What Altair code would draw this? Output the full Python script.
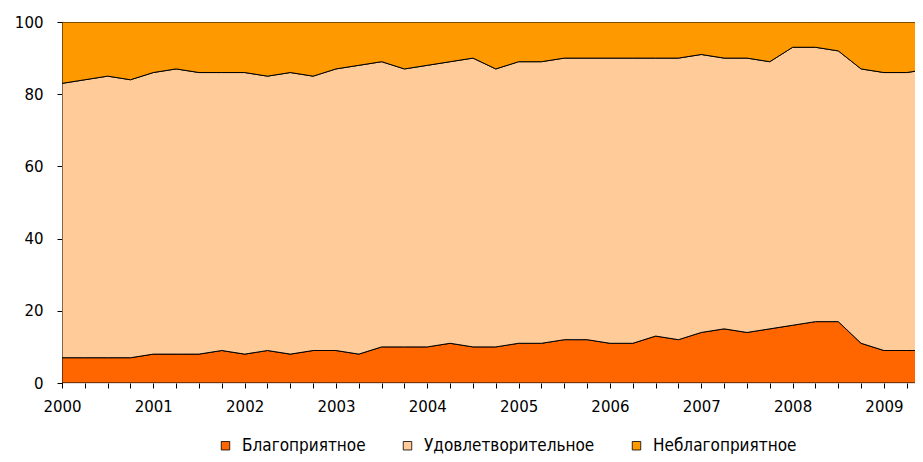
import altair as alt
import pandas as pd

# Quarterly observations, 2000 Q1 .. 2009 Q3 (index 0..38)
favorable = [7, 7, 7, 7, 8, 8, 8, 9, 8, 9, 8, 9, 9, 8, 10, 10, 10, 11, 10, 10,
             11, 11, 12, 12, 11, 11, 13, 12, 14, 15, 14, 15, 16, 17, 17, 11, 9, 9, 9]
# cumulative share of favorable + satisfactory
upper = [83, 84, 85, 84, 86, 87, 86, 86, 86, 85, 86, 85, 87, 88, 89, 87, 88, 89, 90, 87,
         89, 89, 90, 90, 90, 90, 90, 90, 91, 90, 90, 89, 93, 93, 92, 87, 86, 86, 87]
satisfactory = [u - f for u, f in zip(upper, favorable)]
unfavorable = [100 - u for u in upper]

series = ["Благоприятное", "Удовлетворительное", "Неблагоприятное"]
colors = ["#FF6600", "#FFCC99", "#FF9900"]

rows = []
for i in range(len(favorable)):
    for k, (name, vals) in enumerate(zip(series, [favorable, satisfactory, unfavorable])):
        rows.append({"q": i, "series": name, "value": vals[i], "ord": k})
df = pd.DataFrame(rows)

label_expr = "datum.value % 4 == 0 ? toString(2000 + datum.value / 4) : ''"

chart = alt.Chart(df).mark_area(
    clip=True, stroke="black", strokeWidth=1, interpolate="linear"
).encode(
    x=alt.X("q:Q",
            scale=alt.Scale(domain=[0, 37.36], nice=False, zero=False),
            axis=alt.Axis(values=list(range(38)), labelExpr=label_expr, title=None,
                          grid=False, tickSize=5, labelPadding=11, labelFontSize=15,
                          labelColor="black", tickColor="black", domainColor="black",
                          labelFont="DejaVu Sans", labelOverlap=False, labelFlush=False,
                          domain=False)),
    y=alt.Y("value:Q", stack="zero",
            scale=alt.Scale(domain=[0, 100], nice=False),
            axis=alt.Axis(values=[0, 20, 40, 60, 80, 100], title=None, grid=False,
                          tickSize=5, labelPadding=14, labelFontSize=15,
                          labelColor="black", tickColor="black", domainColor="black",
                          labelFont="DejaVu Sans")),
    color=alt.Color("series:N",
                    scale=alt.Scale(domain=series, range=colors),
                    legend=alt.Legend(orient="none", legendX=155, legendY=415,
                                      direction="horizontal", title=None,
                                      symbolType="square", symbolSize=72,
                                      symbolStrokeColor="black", symbolStrokeWidth=0.8,
                                      symbolOpacity=1, labelFontSize=17,
                                      labelFont="DejaVu Sans Condensed",
                                      labelColor="black", columnPadding=33,
                                      labelOffset=8, labelLimit=400)),
    order=alt.Order("ord:Q", sort="ascending"),
).properties(
    width=853, height=361,
    autosize=alt.AutoSizeParams(type="none"),
    padding={"left": 54, "top": 14, "right": 0, "bottom": 71},
).configure_view(stroke=None).configure(background="white")

chart.save("out.html", embed_options={"renderer": "svg", "actions": False})
